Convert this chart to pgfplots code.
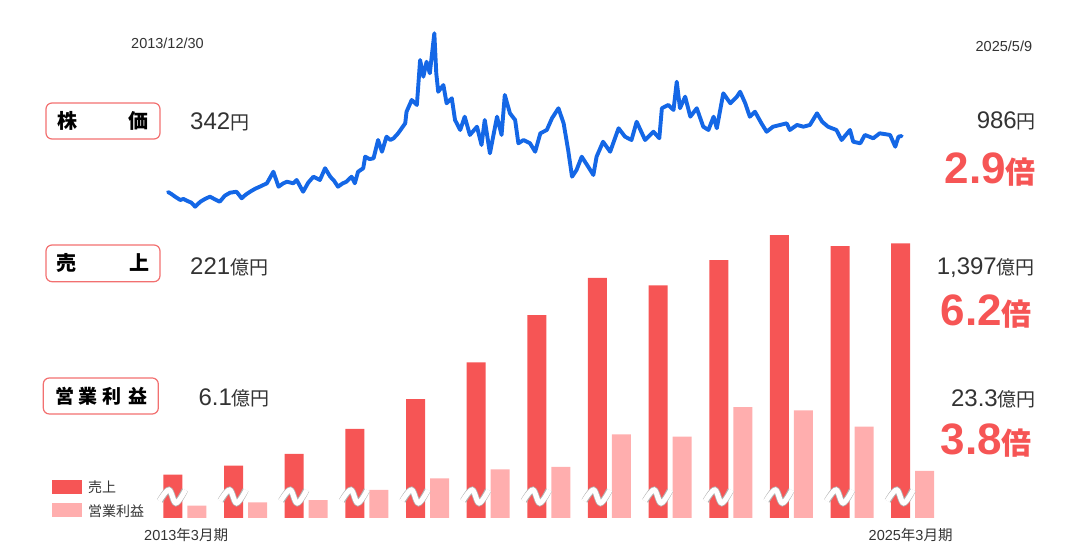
\documentclass[border=0pt]{standalone}
\usepackage{pgfplots}
\usepackage{pgfplotstable}
\pgfplotsset{compat=1.18}
\usepackage{fontspec}
\setmainfont{Liberation Sans}
\newfontfamily\jp{Noto Sans CJK JP}
\definecolor{salesred}{HTML}{F65555}
\definecolor{profitpink}{HTML}{FFAEAE}
\definecolor{stockblue}{HTML}{1467E6}
\definecolor{boxred}{HTML}{F27070}
\definecolor{txt}{HTML}{333333}
\newcommand{\fs}[1]{\fontsize{#1}{#1}\selectfont}

\pgfplotstableread{
i sales profit
0 221 6.1
1 266 7.8
2 326 8.9
3 453 13.9
4 605 19.7
5 792 24.1
6 1032 25.3
7 1221 41.5
8 1183 40.3
9 1312 54.9
10 1439 53.4
11 1383 45.3
12 1397 23.3
}\fin

\pgfplotstableread{
t price
2014.00 342
2014.05 320
2014.11 288
2014.19 250
2014.24 262
2014.29 242
2014.36 220
2014.42 173
2014.50 230
2014.58 265
2014.65 288
2014.72 260
2014.80 230
2014.88 300
2014.96 334
2015.06 345
2015.14 270
2015.20 310
2015.27 345
2015.35 380
2015.42 403
2015.53 442
2015.63 575
2015.71 403
2015.78 440
2015.84 460
2015.94 442
2015.99 480
2016.09 345
2016.17 450
2016.25 518
2016.35 480
2016.43 615
2016.51 518
2016.57 470
2016.63 403
2016.70 440
2016.76 460
2016.84 518
2016.89 442
2016.94 575
2017.02 615
2017.05 748
2017.12 720
2017.18 730
2017.25 940
2017.31 805
2017.38 978
2017.44 940
2017.49 960
2017.56 1017
2017.62 1080
2017.67 1132
2017.69 1265
2017.77 1400
2017.85 1343
2017.90 1860
2017.95 1668
2018.00 1840
2018.05 1707
2018.12 2167
2018.15 1707
2018.18 1495
2018.26 1572
2018.31 1362
2018.39 1420
2018.44 1170
2018.52 1055
2018.59 1208
2018.67 998
2018.78 1093
2018.85 883
2018.90 1170
2018.98 787
2019.09 1208
2019.16 998
2019.21 1458
2019.29 1247
2019.37 1170
2019.42 902
2019.50 940
2019.60 902
2019.68 805
2019.76 1017
2019.86 1055
2019.94 1190
2020.04 1305
2020.12 1132
2020.19 825
2020.25 518
2020.32 595
2020.40 748
2020.50 633
2020.58 538
2020.63 748
2020.73 920
2020.84 805
2020.97 1075
2021.07 978
2021.17 940
2021.25 1150
2021.38 940
2021.51 1035
2021.60 960
2021.64 1305
2021.74 1343
2021.82 1285
2021.87 1610
2021.92 1305
2022.00 1438
2022.08 1208
2022.18 1305
2022.28 1093
2022.36 1055
2022.44 1208
2022.49 1075
2022.59 1477
2022.70 1362
2022.80 1438
2022.85 1495
2022.93 1362
2023.00 1208
2023.08 1265
2023.18 1132
2023.26 1035
2023.36 1093
2023.47 1113
2023.57 1132
2023.62 1055
2023.73 1113
2023.83 1093
2023.93 1113
2024.04 1247
2024.12 1150
2024.21 1093
2024.34 1055
2024.42 940
2024.55 1055
2024.60 920
2024.71 902
2024.78 998
2024.91 960
2025.01 1017
2025.17 998
2025.25 863
2025.30 978
2025.35 986
}\stock

\pgfplotsset{barax/.style={at={(154.6pt,30pt)}, anchor=south west, scale only axis,
  width=788.45pt, height=300pt, xmin=-0.5, xmax=12.5, ymin=0, hide axis, clip=false,
  ybar, bar width=19pt}}

\begin{document}
\begin{tikzpicture}
\useasboundingbox (0,0) rectangle (1084pt,548pt);

% stock price
\begin{axis}[at={(168pt,326.26pt)}, anchor=south west, scale only axis,
  width=733.7pt, height=191.3pt, xmin=2014, xmax=2025.35, ymin=0, ymax=2200,
  hide axis, clip=false]
\addplot[stockblue, line width=3.9pt, line join=round, line cap=round] table[x=t,y=price] {\stock};
\end{axis}

% operating profit
\begin{axis}[barax, ymax=148.7]
\addplot[fill=profitpink, draw=none, bar shift=12pt] table[x=i,y=profit] {\fin};
\end{axis}

% sales
\begin{axis}[barax, ymax=1525.8]
\addplot[fill=salesred, draw=none, bar shift=-12pt] table[x=i,y=sales] {\fin};
\pgfplotsinvokeforeach{0,...,12}{
  \draw[black!30, line width=6.6pt, shift={(axis cs:#1,107)}, xshift=-12pt]
    plot[smooth, tension=0.6] coordinates {(-13pt,-4pt) (-4pt,7pt) (3pt,-6pt) (12pt,7pt)};
  \draw[white, line width=5pt, shift={(axis cs:#1,107)}, xshift=-12pt]
    plot[smooth, tension=0.6] coordinates {(-13.5pt,-4pt) (-4pt,7pt) (3pt,-6pt) (12.5pt,7pt)};
}
\end{axis}

% dates
\node[anchor=base, text=txt, inner sep=0pt] at (167.5pt,499.3pt) {\fs{14.5}2013/12/30};
\node[anchor=base east, text=txt, inner sep=0pt] at (1032.3pt,496.3pt) {\fs{14.5}2025/5/9};

% label boxes
\draw[boxred, line width=1.2pt, rounded corners=6pt] (46pt,409pt) rectangle (160pt,445pt);
\node[anchor=base west, inner sep=0pt] at (57pt,419.4pt) {\jp\bfseries\fs{20}株};
\node[anchor=base west, inner sep=0pt] at (128.5pt,419.4pt) {\jp\bfseries\fs{20}価};

\draw[boxred, line width=1.2pt, rounded corners=6pt] (46pt,266.3pt) rectangle (160pt,303pt);
\node[anchor=base west, inner sep=0pt] at (56.7pt,277pt) {\jp\bfseries\fs{20}売};
\node[anchor=base west, inner sep=0pt] at (129pt,277pt) {\jp\bfseries\fs{20}上};

\draw[boxred, line width=1.2pt, rounded corners=6pt] (43.3pt,134pt) rectangle (158.3pt,170pt);
\node[anchor=base west, inner sep=0pt] at (55pt,144.6pt) {\jp\bfseries\fs{19}営};
\node[anchor=base west, inner sep=0pt] at (78.5pt,144.6pt) {\jp\bfseries\fs{19}業};
\node[anchor=base west, inner sep=0pt] at (102pt,144.6pt) {\jp\bfseries\fs{19}利};
\node[anchor=base west, inner sep=0pt] at (128pt,144.6pt) {\jp\bfseries\fs{19}益};

% left values
\node[anchor=base west, text=txt, inner sep=0pt] at (190pt,418pt) {\fs{24}342{\jp\fs{19}円}};
\node[anchor=base west, text=txt, inner sep=0pt] at (190pt,273.7pt) {\fs{24}221{\jp\fs{19}億円}};
\node[anchor=base west, text=txt, inner sep=0pt] at (198.3pt,142pt) {\fs{24}6.1{\jp\fs{19}億円}};

% right values
\node[anchor=base east, text=txt, inner sep=0pt] at (1036pt,419.7pt) {\fs{24}986{\jp\fs{19}円}};
\node[anchor=base east, text=txt, inner sep=0pt] at (1035pt,273.7pt) {\fs{24}1,397{\jp\fs{19}億円}};
\node[anchor=base east, text=txt, inner sep=0pt] at (1036pt,141.3pt) {\fs{24}23.3{\jp\fs{19}億円}};

\node[anchor=base east, text=salesred, inner sep=0pt] at (1036pt,364.5pt) {\bfseries\fs{44}2.9{\jp\bfseries\fs{30}倍}};
\node[anchor=base east, text=salesred, inner sep=0pt] at (1032pt,222pt) {\bfseries\fs{44}6.2{\jp\bfseries\fs{30}倍}};
\node[anchor=base east, text=salesred, inner sep=0pt] at (1032pt,93pt) {\bfseries\fs{44}3.8{\jp\bfseries\fs{30}倍}};

% legend
\fill[salesred] (52.3pt,54pt) rectangle (81.7pt,68pt);
\fill[profitpink] (52.3pt,30.7pt) rectangle (81.7pt,44.7pt);
\node[anchor=base west, text=txt, inner sep=0pt] at (88pt,55.7pt) {\jp\fs{14}売上};
\node[anchor=base west, text=txt, inner sep=0pt] at (88pt,31pt) {\jp\fs{14}営業利益};

% period labels
\node[anchor=base west, text=txt, inner sep=0pt] at (144pt,7pt) {\fs{14.5}2013{\jp 年}3{\jp 月期}};
\node[anchor=base east, text=txt, inner sep=0pt] at (952.7pt,7pt) {\fs{14.5}2025{\jp 年}3{\jp 月期}};
\end{tikzpicture}
\end{document}
